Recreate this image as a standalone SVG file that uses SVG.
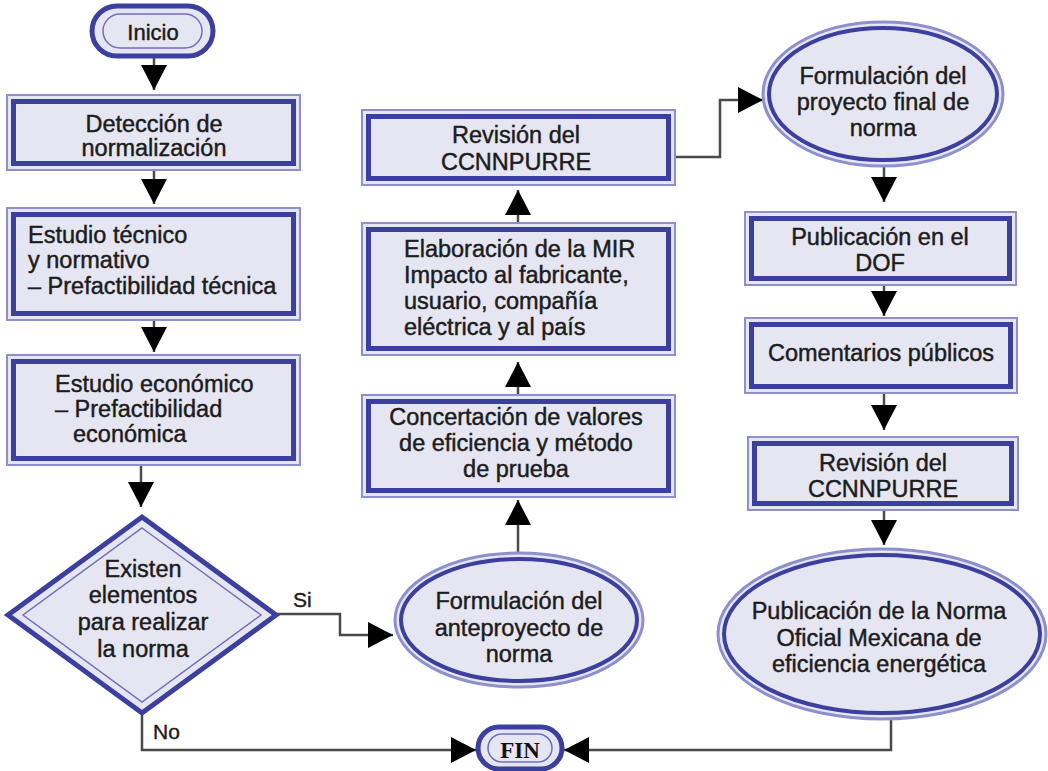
<svg xmlns="http://www.w3.org/2000/svg" width="1048" height="771" viewBox="0 0 1048 771">
<defs>
<style>
.t{font-family:"Liberation Sans",Arial,sans-serif;font-size:23.5px;fill:#1c1c1c;stroke:#1c1c1c;stroke-width:0.45}
.c{text-anchor:middle}
.bo{fill:#e6e6f2;stroke:#8e90cc;stroke-width:2}
.bi{fill:none;stroke:#3b3f9e;stroke-width:5}
.eo{fill:#e6e6f2;stroke:#8e90cc;stroke-width:3}
.ei{fill:none;stroke:#3b3f9e;stroke-width:4}
.co{fill:#e6e6f2;stroke:#3b3f9e;stroke-width:5}
.ci{fill:none;stroke:#6e70b8;stroke-width:1.5}
.ln{fill:none;stroke:#4a4a4a;stroke-width:2.5}
.lb{font-family:"Liberation Sans",Arial,sans-serif;font-size:21px;fill:#1c1c1c;stroke:#1c1c1c;stroke-width:0.4}
</style>
<marker id="ah" viewBox="0 0 25 26" refX="25" refY="13" markerWidth="25" markerHeight="26" markerUnits="userSpaceOnUse" orient="auto">
<path d="M0,0 L25,13 L0,26 z" fill="#000"/>
</marker>
</defs>
<rect width="1048" height="771" fill="#fff"/>

<g id="connectors">
<path class="ln" marker-end="url(#ah)" d="M154,56 V90"/>
<path class="ln" marker-end="url(#ah)" d="M154,170 V204"/>
<path class="ln" marker-end="url(#ah)" d="M154,320 V352"/>
<path class="ln" marker-end="url(#ah)" d="M141,465 V507"/>
<path class="ln" marker-end="url(#ah)" d="M275,614 H340 V635 H393"/>
<path class="ln" marker-end="url(#ah)" d="M142,713 V750 H476"/>
<path class="ln" marker-end="url(#ah)" d="M518,553 V500"/>
<path class="ln" marker-end="url(#ah)" d="M518,395 V362"/>
<path class="ln" marker-end="url(#ah)" d="M518,223 V190"/>
<path class="ln" marker-end="url(#ah)" d="M675,157 H720 V100 H763"/>
<path class="ln" marker-end="url(#ah)" d="M884,166 V202"/>
<path class="ln" marker-end="url(#ah)" d="M884,285 V316"/>
<path class="ln" marker-end="url(#ah)" d="M884,393 V430"/>
<path class="ln" marker-end="url(#ah)" d="M884,510 V545"/>
<path class="ln" marker-end="url(#ah)" d="M891,719 V750 H564"/>
<text class="lb" x="293" y="607">Si</text>
<text class="lb" x="153" y="739">No</text>
</g>

<g id="inicio">
<rect class="co" x="92" y="6" width="121" height="50" rx="25"/>
<rect class="ci" x="103" y="14" width="99" height="34" rx="17"/>
<text class="t c" x="153" y="40" style="font-size:22px">Inicio</text>
</g>

<g id="deteccion">
<rect class="bo" x="7" y="95" width="293" height="75"/>
<rect class="bi" x="13.5" y="101.5" width="280" height="62"/>
<text class="t c" x="154" y="132">Detección de</text>
<text class="t c" x="154" y="156">normalización</text>
</g>

<g id="estudio-tecnico">
<rect class="bo" x="7" y="208" width="293" height="112"/>
<rect class="bi" x="13.5" y="214.5" width="280" height="99"/>
<text class="t" x="28" y="243">Estudio técnico</text>
<text class="t" x="28" y="268">y normativo</text>
<text class="t" x="28" y="294">– Prefactibilidad técnica</text>
</g>

<g id="estudio-economico">
<rect class="bo" x="7" y="355" width="293" height="110"/>
<rect class="bi" x="13.5" y="361.5" width="280" height="97"/>
<text class="t" x="55" y="392">Estudio económico</text>
<text class="t" x="55" y="417">– Prefactibilidad</text>
<text class="t" x="73" y="442">económica</text>
</g>

<g id="decision">
<polygon class="co" points="142,517 276,615 142,713 8,615"/>
<polygon class="ci" points="142,528 261,615 142,702 23,615"/>
<text class="t c" x="143" y="577">Existen</text>
<text class="t c" x="143" y="603">elementos</text>
<text class="t c" x="143" y="630">para realizar</text>
<text class="t c" x="143" y="657">la norma</text>
</g>

<g id="anteproyecto">
<ellipse class="eo" cx="519" cy="620" rx="124" ry="67"/>
<ellipse class="ei" cx="519" cy="620" rx="118" ry="61"/>
<text class="t c" x="519" y="609">Formulación del</text>
<text class="t c" x="519" y="636">anteproyecto de</text>
<text class="t c" x="519" y="662">norma</text>
</g>

<g id="concertacion">
<rect class="bo" x="362" y="395" width="313" height="102"/>
<rect class="bi" x="368.5" y="401.5" width="300" height="89"/>
<text class="t c" x="516" y="425">Concertación de valores</text>
<text class="t c" x="516" y="451">de eficiencia y método</text>
<text class="t c" x="516" y="477">de prueba</text>
</g>

<g id="elaboracion">
<rect class="bo" x="362" y="223" width="313" height="132"/>
<rect class="bi" x="368.5" y="229.5" width="300" height="119"/>
<text class="t" x="404" y="257">Elaboración de la MIR</text>
<text class="t" x="404" y="283">Impacto al fabricante,</text>
<text class="t" x="404" y="309">usuario, compañía</text>
<text class="t" x="404" y="335">eléctrica y al país</text>
</g>

<g id="revision-1">
<rect class="bo" x="362" y="110" width="313" height="75"/>
<rect class="bi" x="368.5" y="116.5" width="300" height="62"/>
<text class="t c" x="516" y="143">Revisión del</text>
<text class="t c" x="516" y="170">CCNNPURRE</text>
</g>

<g id="proyecto-final">
<ellipse class="eo" cx="883" cy="94" rx="120" ry="72"/>
<ellipse class="ei" cx="883" cy="94" rx="114" ry="66"/>
<text class="t c" x="883" y="84">Formulación del</text>
<text class="t c" x="883" y="110">proyecto final de</text>
<text class="t c" x="883" y="136">norma</text>
</g>

<g id="publicacion-dof">
<rect class="bo" x="745" y="212" width="271" height="73"/>
<rect class="bi" x="751.5" y="218.5" width="258" height="60"/>
<text class="t c" x="880" y="245">Publicación en el</text>
<text class="t c" x="880" y="271">DOF</text>
</g>

<g id="comentarios">
<rect class="bo" x="745" y="318" width="272" height="75"/>
<rect class="bi" x="751.5" y="324.5" width="259" height="62"/>
<text class="t c" x="881" y="361">Comentarios públicos</text>
</g>

<g id="revision-2">
<rect class="bo" x="748" y="437" width="270" height="73"/>
<rect class="bi" x="754.5" y="443.5" width="257" height="60"/>
<text class="t c" x="883" y="471">Revisión del</text>
<text class="t c" x="883" y="497">CCNNPURRE</text>
</g>

<g id="publicacion-norma">
<ellipse class="eo" cx="882" cy="634" rx="164" ry="85"/>
<ellipse class="ei" cx="882" cy="634" rx="158" ry="79"/>
<text class="t c" x="879" y="619">Publicación de la Norma</text>
<text class="t c" x="879" y="646">Oficial Mexicana de</text>
<text class="t c" x="879" y="672">eficiencia energética</text>
</g>

<g id="fin">
<rect class="co" x="478" y="727" width="84" height="42" rx="21"/>
<rect class="ci" x="488" y="734" width="64" height="28" rx="14"/>
<text x="520" y="758" text-anchor="middle" style="font-family:'Liberation Serif','Times New Roman',serif;font-size:23px;font-weight:bold;fill:#111">FIN</text>
</g>
</svg>
